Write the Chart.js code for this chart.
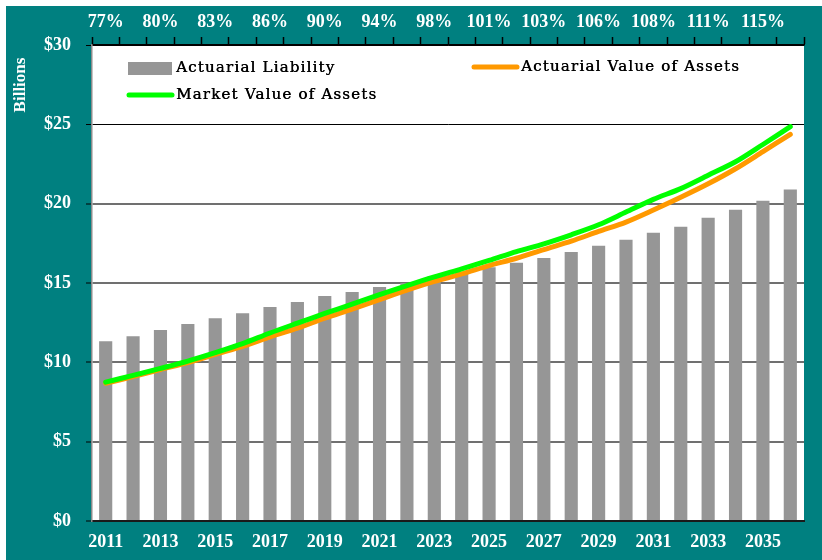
<!DOCTYPE html>
<html>
<head>
<meta charset="utf-8">
<script src="https://cdn.jsdelivr.net/npm/chart.js@4.4.1/dist/chart.umd.min.js"></script>
<style>
  html, body { margin: 0; padding: 0; background: #fff; }
  canvas { display: block; }
</style>
</head>
<body>
<canvas id="myChart" width="822" height="560"></canvas>
<script>
// values in billions
const years = ['2011','2012','2013','2014','2015','2016','2017','2018','2019','2020','2021','2022','2023',
               '2024','2025','2026','2027','2028','2029','2030','2031','2032','2033','2034','2035','2036'];
const liability = [11.33, 11.65, 12.03, 12.41, 12.78, 13.10, 13.48, 13.80, 14.18, 14.43, 14.75, 15.00, 15.44,
                   15.70, 16.00, 16.27, 16.58, 16.96, 17.34, 17.72, 18.16, 18.54, 19.11, 19.62, 20.19, 20.89];
const actuarialAssets = [8.68, 9.10, 9.55, 9.98, 10.50, 11.00, 11.60, 12.15, 12.78, 13.35, 13.95, 14.55, 15.10,
                         15.57, 16.10, 16.56, 17.11, 17.64, 18.25, 18.84, 19.60, 20.40, 21.25, 22.20, 23.28, 24.37];
const marketAssets = [8.75, 9.18, 9.62, 10.08, 10.61, 11.18, 11.85, 12.47, 13.08, 13.67, 14.26, 14.83, 15.38,
                      15.89, 16.42, 16.98, 17.47, 18.04, 18.67, 19.47, 20.27, 20.95, 21.79, 22.64, 23.73, 24.85];
// funded ratio shown above every other year (2011, 2013, ... 2035)
const fundedRatio = ['77%','80%','83%','86%','90%','94%','98%','101%','103%','106%','108%','111%','115%'];

const TEAL = '#008080';
const tickFont = { family: "'Liberation Serif', 'Times New Roman', serif", size: 18, weight: 'bold' };

const frame = {
  id: 'frame',
  beforeDraw: function (chart) {
    const ctx = chart.ctx;
    const a = chart.chartArea;
    ctx.save();
    ctx.fillStyle = '#fff';
    ctx.fillRect(0, 0, chart.width, chart.height);
    ctx.fillStyle = TEAL;
    ctx.fillRect(6, 6, chart.width - 6, chart.height - 6);
    ctx.fillStyle = '#fff';
    ctx.fillRect(a.left, a.top, a.right - a.left, a.bottom - a.top);
    ctx.restore();
  },
  afterDraw: function (chart) {
    const ctx = chart.ctx;
    ctx.save();
    // axis title
    ctx.translate(21, 85);
    ctx.rotate(-Math.PI / 2);
    ctx.fillStyle = '#fff';
    ctx.font = "bold 17px 'Liberation Serif', serif";
    ctx.textAlign = 'center';
    ctx.textBaseline = 'middle';
    ctx.fillText('Billions', 0, 0);
    ctx.restore();

    // legend inside the plot
    const ds = chart.data.datasets;
    const spots = [
      { i: 0, x: 128, y: 68 },
      { i: 1, x: 473, y: 67 },
      { i: 2, x: 128, y: 95 }
    ];
    ctx.save();
    ctx.font = "15px 'DejaVu Serif', serif";
    ctx.letterSpacing = '1.2px';
    ctx.textBaseline = 'middle';
    ctx.fillStyle = '#000';
    spots.forEach(function (s) {
      const d = ds[s.i];
      if (d.type === 'line') {
        ctx.strokeStyle = d.borderColor;
        ctx.lineWidth = 5;
        ctx.lineCap = 'round';
        ctx.beginPath();
        ctx.moveTo(s.x + 1, s.y);
        ctx.lineTo(s.x + 44, s.y);
        ctx.stroke();
      } else {
        ctx.fillStyle = d.backgroundColor;
        ctx.fillRect(s.x, s.y - 6, 44, 13);
      }
      ctx.fillStyle = '#000';
      ctx.fillText(d.label, s.x + 48, s.y);
      ctx.fillText(d.label, s.x + 48.4, s.y);
    });
    ctx.restore();
  }
};

const data = {
  labels: years,
  datasets: [
    {
      label: 'Actuarial Liability',
      type: 'bar',
      data: liability,
      backgroundColor: '#969696',
      categoryPercentage: 1,
      barPercentage: 0.48,
      xAxisID: 'x',
      order: 3
    },
    {
      label: 'Actuarial Value of Assets',
      type: 'line',
      data: actuarialAssets,
      borderColor: '#FF9900',
      backgroundColor: '#FF9900',
      borderWidth: 5,
      borderCapStyle: 'round',
      pointRadius: 0,
      tension: 0.3,
      xAxisID: 'x',
      order: 2
    },
    {
      label: 'Market Value of Assets',
      type: 'line',
      data: marketAssets,
      borderColor: '#00FF00',
      backgroundColor: '#00FF00',
      borderWidth: 5,
      borderCapStyle: 'round',
      pointRadius: 0,
      tension: 0.3,
      xAxisID: 'x',
      order: 1
    }
  ]
};

const config = {
  data: data,
  plugins: [frame],
  options: {
    responsive: false,
    animation: false,
    devicePixelRatio: 1,
    layout: { padding: { top: 0, left: 0, right: 18, bottom: 0 } },
    plugins: { legend: { display: false }, tooltip: { enabled: false } },
    scales: {
      x: {
        type: 'category',
        position: 'bottom',
        offset: true,
        grid: { display: false, drawTicks: false },
        border: { display: true, color: '#1a1a1a', width: 2 },
        ticks: {
          autoSkip: false, maxRotation: 0, color: '#fff', font: tickFont, padding: 11,
          callback: function (v, i) { return i % 2 === 0 ? years[i] : ''; }
        },
        afterFit: function (s) { s.height = 39; }
      },
      x2: {
        type: 'category',
        position: 'top',
        offset: true,
        grid: { display: true, drawOnChartArea: false, drawTicks: true, tickLength: 8,
                tickColor: '#000', tickWidth: 1.5, offset: true },
        border: { display: true, color: '#000', width: 1.5 },
        ticks: {
          autoSkip: false, maxRotation: 0, color: '#fff', font: tickFont, padding: 4,
          callback: function (v, i) { return i % 2 === 0 ? fundedRatio[i / 2] : ''; }
        },
        afterFit: function (s) { s.height = 45; }
      },
      y: {
        min: 0,
        max: 30,
        grid: {
          color: function (c) { return c.tick.value === 25 || c.tick.value === 30 ? '#000' : '#707070'; },
          lineWidth: function (c) { return c.tick.value === 25 || c.tick.value === 30 ? 1 : 2; },
          drawTicks: true, tickLength: 6, tickColor: '#000', tickWidth: 1
        },
        border: { display: true, color: '#8a8a8a', width: 1.5 },
        ticks: {
          stepSize: 5, color: '#fff', font: tickFont, padding: 15,
          callback: function (v) { return '$' + v; }
        },
        afterFit: function (s) { s.width = 92; }
      }
    }
  }
};

const ctx = document.getElementById('myChart');
new Chart(ctx, config);
</script>
</body>
</html>
